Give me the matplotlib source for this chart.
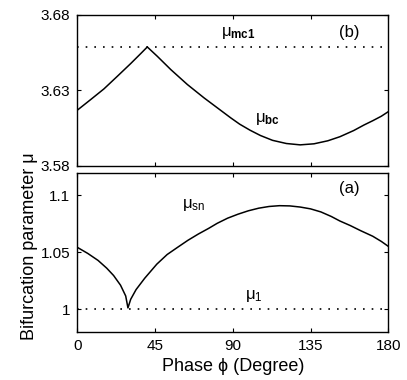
import matplotlib
matplotlib.use('Agg')
import matplotlib.pyplot as plt

plt.rcParams['font.family'] = ['Liberation Sans', 'DejaVu Sans']
plt.rcParams['mathtext.fontset'] = 'custom'
plt.rcParams['mathtext.rm'] = 'Liberation Sans'
plt.rcParams['mathtext.it'] = 'Liberation Sans'
plt.rcParams['mathtext.bf'] = 'Liberation Sans:bold'

# (b) mu_bc
phase_bc = [0, 7.7, 15.4, 23.2, 30.9, 36.7, 40.5, 46.3, 54.1, 63.7, 73.4,
            81.1, 88.8, 94, 100, 106, 113, 121, 129, 137, 145, 152, 160,
            166, 171, 176, 180]
mu_bc = [3.6168, 3.6238, 3.6309, 3.6393, 3.6477, 3.6543, 3.6587, 3.6525,
         3.6437, 3.6338, 3.6249, 3.6183, 3.6117, 3.6075, 3.6035, 3.600,
         3.5968, 3.5947, 3.5938, 3.5945, 3.5965, 3.5992, 3.6033, 3.607,
         3.6098, 3.6128, 3.6158]
mu_mc1 = 3.6588

# (a) mu_sn
phase_sn = [0, 6, 12, 17, 21, 25, 28, 29.3, 30.9, 34, 39, 46, 52, 58, 64,
            70, 76, 81, 87, 93, 99, 105, 111, 117, 123, 129, 135, 141, 147,
            152, 158, 164, 171, 176, 180]
mu_sn = [1.0543, 1.0490, 1.0428, 1.0360, 1.0295, 1.0210, 1.0115, 1.001,
         1.0086, 1.0171, 1.0271, 1.0395, 1.048, 1.0543, 1.0605, 1.066,
         1.071, 1.0755, 1.080, 1.0835, 1.0865, 1.0888, 1.0903, 1.091,
         1.0908, 1.0898, 1.0882, 1.0855, 1.0815, 1.0775, 1.0735, 1.069,
         1.0641, 1.0595, 1.0552]
mu_1 = 1.0

xticks = [0, 45, 90, 135, 180]

fig = plt.figure(figsize=(4.07, 3.80), dpi=100)
ax_b = fig.add_axes([0.190, 0.564, 0.764, 0.397])
ax_a = fig.add_axes([0.190, 0.127, 0.764, 0.4184])

dot = (0, (1, 4.2))

ax_b.plot(phase_bc, mu_bc, color='black', lw=1.1)
ax_b.axhline(mu_mc1, color='black', lw=1.2, linestyle=dot)
ax_b.set_xlim(0, 180)
ax_b.set_ylim(3.58, 3.68)
ax_b.set_yticks([3.58, 3.63, 3.68])
ax_b.set_yticklabels(['3.58', '3.63', '3.68'])
ax_b.set_xticks(xticks)
ax_b.set_xticklabels([])
ax_b.text(93, 3.668, r'$\mu_{\mathbf{mc1}}$', fontsize=12, ha='center', va='center')
ax_b.text(157.5, 3.668, '(b)', fontsize=12, ha='center', va='center')
ax_b.text(110, 3.611, r'$\mu_{\mathbf{bc}}$', fontsize=12, ha='center', va='center')

ax_a.plot(phase_sn, mu_sn, color='black', lw=1.1)
ax_a.axhline(mu_1, color='black', lw=1.2, linestyle=dot)
ax_a.set_xlim(0, 180)
ax_a.set_ylim(0.98, 1.12)
ax_a.set_yticks([1.0, 1.05, 1.1])
ax_a.set_yticklabels(['1', '1.05', '1.1'])
ax_a.set_xticks(xticks)
ax_a.set_xticklabels([str(t) for t in xticks])
ax_a.text(67, 1.092, r'$\mu_{\rm sn}$', fontsize=12, ha='center', va='center')
ax_a.text(157.5, 1.106, '(a)', fontsize=12, ha='center', va='center')
ax_a.text(102, 1.0113, r'$\mu_{\rm 1}$', fontsize=12, ha='center', va='center')
ax_a.set_xlabel('Phase ϕ (Degree)', fontsize=13, labelpad=4)

for ax in (ax_a, ax_b):
    ax.tick_params(direction='in', top=True, right=True, length=3,
                   labelsize=11, pad=5)
    for s in ax.spines.values():
        s.set_linewidth(1.0)

fig.text(0.072, 0.353, 'Bifurcation parameter μ', rotation=90, fontsize=13,
         ha='center', va='center')

fig.savefig('out.png', dpi=100)
